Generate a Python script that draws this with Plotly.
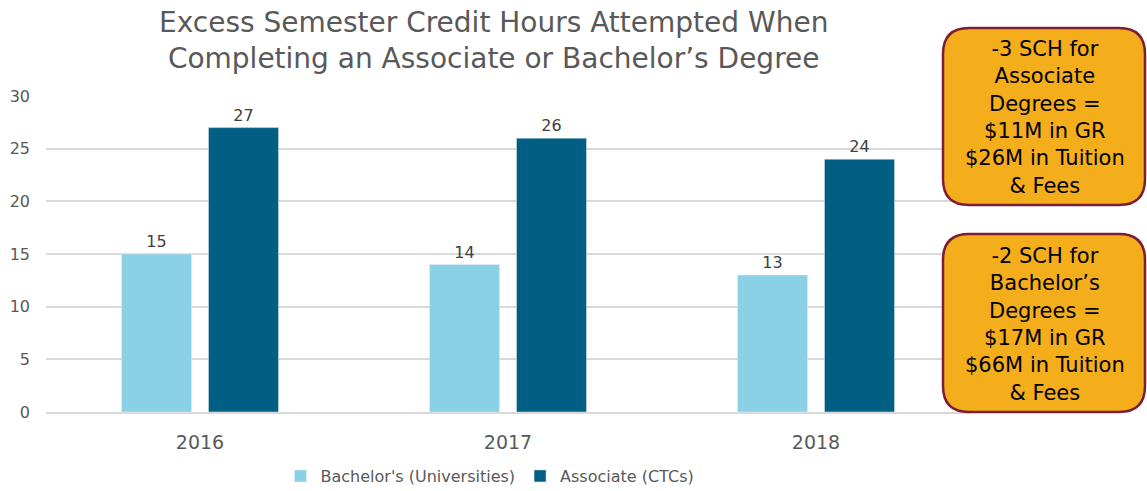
import plotly.graph_objects as go

years = ["2016", "2017", "2018"]
bachelor = [15, 14, 13]
associate = [27, 26, 24]
series_names = ["Bachelor's (Universities)", "Associate (CTCs)"]
title_text = "Excess Semester Credit Hours Attempted When<br>Completing an Associate or Bachelor’s Degree"
box1_text = "-3 SCH for<br>Associate<br>Degrees =<br>$11M in GR<br>$26M in Tuition<br>& Fees"
box2_text = "-2 SCH for<br>Bachelor’s<br>Degrees =<br>$17M in GR<br>$66M in Tuition<br>& Fees"

W, H = 1147, 491
L, R, T, B = 46, 970, 96, 412
FONT = "DejaVu Sans"
GREY = "#595959"

fig = go.Figure()
fig.add_trace(go.Bar(x=years, y=bachelor, name=series_names[0], marker_color="#8AD1E6",
                     text=bachelor, textposition="outside", cliponaxis=False,
                     textfont=dict(size=16, color="#404040", family=FONT)))
fig.add_trace(go.Bar(x=years, y=associate, name=series_names[1], marker_color="#005F83",
                     text=associate, textposition="outside", cliponaxis=False,
                     textfont=dict(size=16, color="#404040", family=FONT)))


def px2paper(x, y):
    return (x - L) / (R - L), (B - y) / (B - T)


def rounded_path(x0, y0, x1, y1, r):
    def p(x, y):
        a, b = px2paper(x, y)
        return f"{a:.5f},{b:.5f}"
    return (f"M {p(x0 + r, y0)} L {p(x1 - r, y0)} Q {p(x1, y0)} {p(x1, y0 + r)} "
            f"L {p(x1, y1 - r)} Q {p(x1, y1)} {p(x1 - r, y1)} "
            f"L {p(x0 + r, y1)} Q {p(x0, y1)} {p(x0, y1 - r)} "
            f"L {p(x0, y0 + r)} Q {p(x0, y0)} {p(x0 + r, y0)} Z")


for (y0, y1, txt) in [(28, 205, box1_text), (234, 412, box2_text)]:
    fig.add_shape(type="path", xref="paper", yref="paper",
                  path=rounded_path(943, y0, 1145, y1, 26),
                  fillcolor="#F4AE1B", line=dict(color="#7B1E36", width=2.5), layer="above")
    cx, cy = px2paper(1045, (y0 + y1) / 2 + 1)
    fig.add_annotation(xref="paper", yref="paper", x=cx, y=cy, text=txt, showarrow=False,
                       font=dict(size=21, color="#000000", family=FONT), align="center",
                       xanchor="center", yanchor="middle")

# title as a two-line annotation
tx, ty = px2paper(493, 41)
fig.add_annotation(xref="paper", yref="paper", x=tx, y=ty, text=title_text, showarrow=False,
                   font=dict(size=28, color=GREY, family=FONT), align="center",
                   xanchor="center", yanchor="middle")

fig.update_layout(
    width=W, height=H,
    margin=dict(l=L, r=W - R, t=T, b=H - B, autoexpand=False),
    paper_bgcolor="white", plot_bgcolor="white",
    barmode="group", bargap=0.435, bargroupgap=0.195,
    font=dict(family=FONT, color=GREY),
    legend=dict(orientation="h", x=490 / W, xref="container", xanchor="center",
                y=1 - 476 / H, yref="container", yanchor="middle",
                font=dict(size=16, color=GREY, family=FONT), itemwidth=30),
    showlegend=True,
)
fig.update_yaxes(range=[0, 30], tickvals=[0, 5, 10, 15, 20, 25, 30], showgrid=True,
                 gridcolor="#D9D9D9", gridwidth=1.5, zeroline=False, showline=False,
                 tickfont=dict(size=16, color=GREY, family=FONT), ticklabelstandoff=15)
fig.update_xaxes(showline=True, linecolor="#D9D9D9", linewidth=2,
                 tickfont=dict(size=19, color=GREY, family=FONT), ticklabelstandoff=12)

fig.write_html("out.html", config={"displayModeBar": False},
               post_script="document.body.style.margin='0';")
